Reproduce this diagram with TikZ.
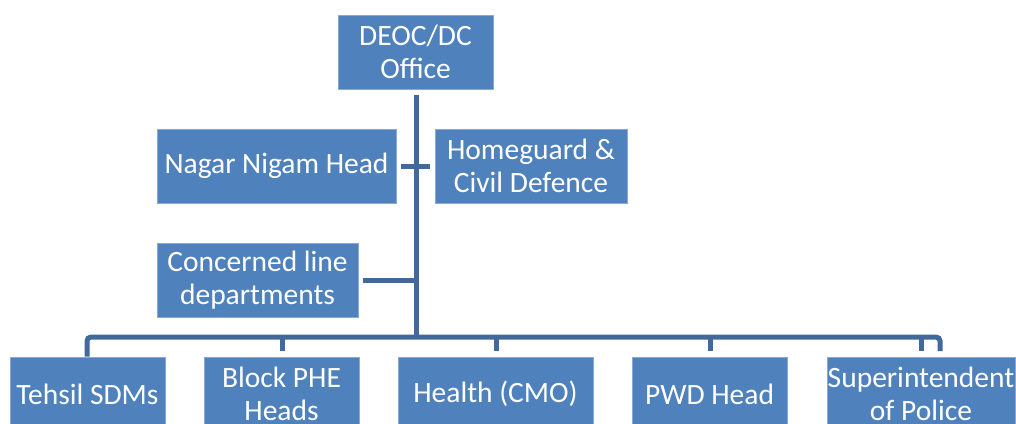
\documentclass[tikz,border=0pt]{standalone}
\usepackage{fontspec}
\setmainfont{Carlito}
\definecolor{boxfill}{HTML}{4F81BD}
\definecolor{boxedge}{HTML}{8AA9D6}
\definecolor{linkcol}{HTML}{41699B}
\begin{document}
\begin{tikzpicture}[x=1pt,y=-1pt,
  orgbox/.style={rectangle, fill=boxfill, draw=boxedge, line width=1pt, text=white,
    align=center, inner sep=0pt, minimum height=74pt,
    font=\fontsize{29.5}{33.5}\selectfont},
  link/.style={draw=linkcol, line width=5pt},
  bus/.style={draw=linkcol, line width=5pt, rounded corners=4pt}]
\useasboundingbox (0,0) rectangle (1016,423);
\begin{scope}
\clip (0,0) rectangle (1016,423);
\node[orgbox, minimum width=155pt] (deoc) at (415.5,52) {DEOC/DC\\Office};
\node[orgbox, minimum width=239pt] (nagar) at (276.5,166) {Nagar Nigam Head};
\node[orgbox, minimum width=192pt] (home) at (531,166) {Homeguard \&\\Civil Defence};
\node[orgbox, minimum width=201pt] (conc) at (257.5,280) {Concerned line\\departments};
\node[orgbox, minimum width=155pt] (tehsil) at (87.5,394) {Tehsil SDMs};
\node[orgbox, minimum width=155pt] (block) at (281.5,394) {Block PHE\\Heads};
\node[orgbox, minimum width=195pt] (health) at (495.5,394) {Health (CMO)};
\node[orgbox, minimum width=155pt] (pwd) at (709.5,394) {PWD Head};
\node[orgbox, minimum width=188pt] (sup) at (921,394) {Superintendent\\of Police};
\end{scope}
\coordinate (trunktop) at (416,95);
\coordinate (trunkbot) at (416,337);
\coordinate (nagarR) at (401,166);
\coordinate (homeL) at (430,166);
\coordinate (concR) at (363,280);
\coordinate (concJ) at (416,280);
\draw[link] (trunktop) -- (trunkbot);
\draw[link] (nagarR) -- (homeL);
\draw[link] (concR) -- (concJ);
\draw[bus] (tehsil.north -| 87,351) -- (87,337) -- (940,337) -- (940,351);
\foreach \n/\x in {block/282, health/496, pwd/710, sup/921}
  \draw[link] (\x,337) -- (\x,351);
\end{tikzpicture}
\end{document}
